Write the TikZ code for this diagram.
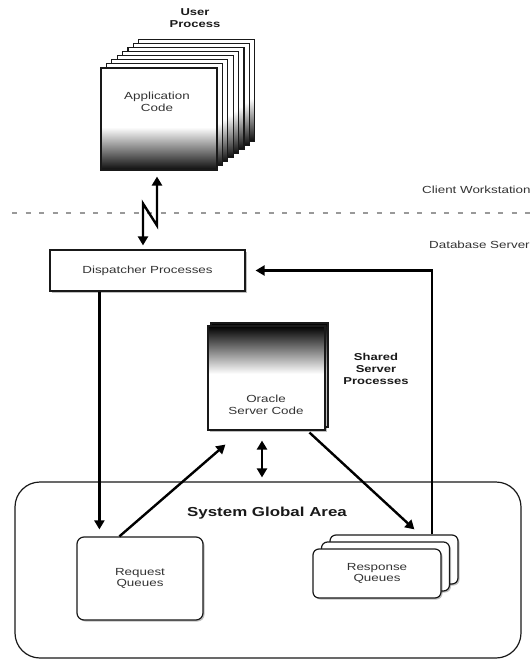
\documentclass[tikz,border=0pt]{standalone}
\usepackage{fontspec}
\setmainfont{Liberation Sans}[FakeStretch=1.3]
\usetikzlibrary{arrows.meta,shadows,calc}
\pgfdeclareverticalshading{appshade}{100bp}{color(0bp)=(black); color(25bp)=(black!95); color(46bp)=(white); color(100bp)=(white)}
\pgfdeclareverticalshading{orashade}{100bp}{color(0bp)=(white); color(52bp)=(white); color(75bp)=(black); color(100bp)=(black)}
\begin{document}
\begin{tikzpicture}[x=1pt,y=-1pt,
  lbl/.style={font=\fontsize{10.3}{11.8}\selectfont, text=black!80, align=center},
  blbl/.style={font=\bfseries\fontsize{10}{12}\selectfont, text=black!90, align=center},
  box/.style={draw=black!90, line width=1.2pt, fill=white, inner sep=0pt},
  shad/.style={drop shadow={shadow xshift=1.5pt,shadow yshift=-1.5pt,opacity=0.25,fill=black}},
  applayer/.style={draw=black!90, line width=1.1pt, shading=appshade, minimum width=116pt, minimum height=102pt, inner sep=0pt},
  oralayer/.style={draw=black!90, line width=1.1pt, shading=orashade, minimum width=117pt, minimum height=104pt, inner sep=0pt},
  tip/.tip={Triangle[length=9pt,width=10pt]},
  flow/.style={line width=2.4pt, -tip},
  bothflow/.style={line width=2.4pt, tip-tip},
  respbox/.style={box, shad, rounded corners=6pt, minimum width=128pt, minimum height=49pt}
]
\useasboundingbox (0,0) rectangle (531,660);

% separator
\coordinate (dl) at (12,213);
\coordinate (dr) at (531,213);
\draw[black!40, line width=1.4pt, dash pattern=on 5pt off 8.5pt] (dl) -- (dr);
\node[lbl, anchor=west, inner sep=0pt] (client) at (422,190) {Client Workstation};
\node[lbl, anchor=west, inner sep=0pt] (dbs) at (429,245) {Database Server};

% user process stack
\node[blbl] (uplbl) at (195,18) {User\\Process};
\foreach \k in {7,6,...,1}{
  \node[applayer] (app\k) at ({159+5.4*\k},{119-4.1*\k}) {};
}
\node[applayer] (app) at (159,119) {};
\node[lbl] (applbl) at (157,102) {Application\\Code};

% SGA
\node[draw=black!90, line width=1.2pt, rounded corners=25pt, minimum width=506pt, minimum height=176pt] (sga) at (268,570) {};
\node[font=\bfseries\fontsize{13}{15}\selectfont, text=black!90] (sgalbl) at (267,513) {System Global Area};

% dispatcher
\node[box, shad, minimum width=195pt, minimum height=41pt, lbl] (disp) at (147.5,270.5) {Dispatcher Processes};

% oracle server code
\node[oralayer] (ora2) at (269.5,375) {};
\node[oralayer, shad] (ora) at (266.5,378) {};
\node[lbl] (oralbl) at (266,405) {Oracle\\Server Code};
\node[blbl] (sslbl) at (376,369) {Shared\\Server\\Processes};

% request queues
\node[box, shad, rounded corners=7pt, minimum width=126pt, minimum height=83pt, lbl] (req) at (140,578.5) {Request\\Queues};

% response queues
\node[respbox] (resp3) at (394,559.5) {};
\node[respbox] (resp2) at (385.5,566.5) {};
\node[respbox, lbl] (resp) at (377,573.5) {Response\\Queues};

% connectors
\coordinate (lt) at ($(app.south)+(-2,6)$);
\coordinate (lb) at ($(disp.north)+(-4.5,-4)$);
\draw[bothflow] (lt) -- ++(0,49) -- ++(-14,-22) -- (lb);

\draw[flow] ($(disp.south west)+(50,0)$) -- ($(req.north west)+(23,-7)$);
\draw[flow] ($(resp3.north)+(38,0)$) |- ($(disp.east)+(10,0)$);
\draw[flow] ($(req.north west)+(43,0)$) -- ($(ora.south west)+(18,14)$);
\draw[flow] ($(ora.south west)+(102,2)$) -- ($(resp3.north west)+(85,-5)$);
\draw[bothflow] ($(ora.south)+(-4.5,10)$) -- ($(sga.north)+(-6,-4)$);
\end{tikzpicture}
\end{document}
